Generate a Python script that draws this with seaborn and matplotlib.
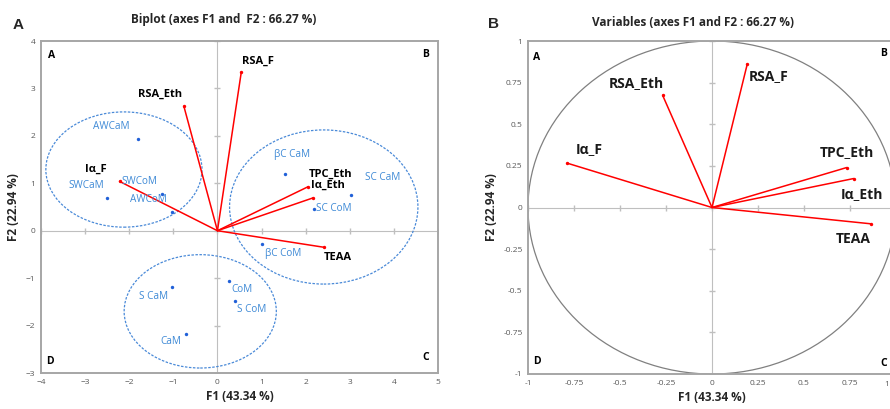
import numpy as np
import pandas as pd
import matplotlib
matplotlib.use('Agg')
import matplotlib.pyplot as plt
from matplotlib.patches import Ellipse, Circle
import seaborn as sn

# --- data ---
var_names = ['RSA_F', 'RSA_Eth', 'Iα_F', 'TPC_Eth', 'Iα_Eth', 'TEAA']
bi_f1 = [0.54, -0.76, -2.22, 2.06, 2.16, 2.42]
bi_f2 = [3.34, 2.62, 1.04, 0.93, 0.69, -0.35]

obs_names = ['AWCaM', 'SWCaM', 'SWCoM', 'AWCoM', 'βC CaM', 'SC CaM',
             'SC CoM', 'βC CoM', 'CoM', 'S CoM', 'S CaM', 'CaM']
obs_f1 = [-1.80, -2.51, -1.26, -1.03, 1.54, 3.02, 2.20, 1.01, 0.27, 0.39, -1.03, -0.71]
obs_f2 = [1.94, 0.70, 0.78, 0.40, 1.19, 0.745, 0.46, -0.28, -1.06, -1.48, -1.19, -2.17]

# group ellipses: centre f1, centre f2, width, height
grp_f1 = [-2.12, 2.41, -0.39]
grp_f2 = [1.29, 0.50, -1.70]
grp_w = [3.54, 4.27, 3.45]
grp_h = [2.43, 3.25, 2.39]

cor_f1 = [0.192, -0.268, -0.786, 0.732, 0.770, 0.864]
cor_f2 = [0.863, 0.673, 0.266, 0.240, 0.174, -0.098]

# label offsets (points), style only
bi_off = [(12, 8), (-17, 9), (-17, 9), (16, 9), (11, 9), (10, -7)]
obs_off = [(-19, 9), (-15, 9), (-16, 9), (-17, 9), (5, 14), (23, 13),
           (14, 0), (15, -7), (9, -6), (12, -6), (-13, -7), (-11, -6)]
cor_off = [(15, -9), (-19, 9), (16, 10), (0, 11), (6, -11), (-13, -11)]

bi = pd.DataFrame({'f1': bi_f1, 'f2': bi_f2, 'name': var_names})
obs = pd.DataFrame({'f1': obs_f1, 'f2': obs_f2, 'name': obs_names})
cor = pd.DataFrame({'f1': cor_f1, 'f2': cor_f2, 'name': var_names})

sn.set_theme(style='white')
plt.rcParams['font.family'] = ['Open Sans', 'DejaVu Sans']

GRAY = '#a6a6a6'
TICKC = '#595959'
RED = '#ff0000'
BLUE_T = '#3f8ad6'
BLUE_P = '#2060d8'

fig = plt.figure(figsize=(8.9, 4.09), dpi=100)
axA = fig.add_axes([41 / 890, 36 / 409, 397 / 890, 332 / 409])
axB = fig.add_axes([528 / 890, 35 / 409, 368 / 890, 333 / 409])


def frame(ax, xt, yt, tlen):
    for s in ax.spines.values():
        s.set_color(GRAY)
        s.set_linewidth(1.4)
    ax.tick_params(length=0, labelsize=6, colors=TICKC, pad=4)
    ax.set_xticks(xt)
    ax.set_yticks(yt)
    ax.axhline(0, color='#bfbfbf', lw=0.8, zorder=1)
    ax.axvline(0, color='#bfbfbf', lw=0.8, zorder=1)
    # small tick marks on the zero lines
    ax.plot(xt, np.zeros(len(xt)), ls='none', marker='|', ms=tlen, color='#bfbfbf', zorder=1)
    ax.plot(np.zeros(len(yt)), yt, ls='none', marker='_', ms=tlen, color='#bfbfbf', zorder=1)
    ax.set_xlabel('F1 (43.34 %)', fontsize=8.5, fontweight='bold', labelpad=3)
    ax.set_ylabel('F2 (22.94 %)', fontsize=8.5, fontweight='bold', labelpad=4)


def quad(ax, pos):
    for letter, (fx, fy) in zip('ABDC', pos):
        ax.text(fx, fy, letter, transform=ax.transAxes, ha='center', va='center',
                fontsize=7.5, fontweight='bold', color='black')


# ---- panel A: biplot ----
ax = axA
ax.set_xlim(-4, 5)
ax.set_ylim(-3, 4)
frame(ax, np.arange(-4, 6), np.arange(-3, 5), 4)
for cx, cy, w, h in zip(grp_f1, grp_f2, grp_w, grp_h):
    ax.add_patch(Ellipse((cx, cy), w, h, fill=False, ls=(0, (2, 1.2)),
                         lw=0.9, ec='#4a8ad8', zorder=2))
for _, r in bi.iterrows():
    ax.plot([0, r.f1], [0, r.f2], color=RED, lw=1.1, zorder=3)
sn.scatterplot(data=bi, x='f1', y='f2', ax=ax, color=RED, s=6, linewidth=0, zorder=4, legend=False)
sn.scatterplot(data=obs, x='f1', y='f2', ax=ax, color=BLUE_P, s=6, linewidth=0, zorder=4, legend=False)
for (_, r), off in zip(bi.iterrows(), bi_off):
    ax.annotate(r['name'], (r.f1, r.f2), xytext=off, textcoords='offset points',
                ha='center', va='center', fontsize=8, fontweight='bold', color='black', zorder=5)
for (_, r), off in zip(obs.iterrows(), obs_off):
    ax.annotate(r['name'], (r.f1, r.f2), xytext=off, textcoords='offset points',
                ha='center', va='center', fontsize=7.2, color=BLUE_T, zorder=5)
quad(ax, [(0.027, 0.957), (0.969, 0.960), (0.023, 0.034), (0.969, 0.048)])

# ---- panel B: correlation circle ----
ax = axB
ax.set_xlim(-1, 1)
ax.set_ylim(-1, 1)
ticks = [-1, -0.75, -0.5, -0.25, 0, 0.25, 0.5, 0.75, 1]
tick_txt = ['-1', '-0.75', '-0.5', '-0.25', '0', '0.25', '0.5', '0.75', '1']
frame(ax, ticks, ticks, 4)
# the "1" at the right end falls past the figure edge; draw it just inside
ax.set_xticklabels(tick_txt[:-1] + [''])
ax.set_yticklabels(tick_txt)
fig.text(889 / 890, 1 - 384 / 409, tick_txt[-1], ha='right', va='center',
         fontsize=6, color=TICKC)
ax.add_patch(Circle((0, 0), 1, fill=False, ec='#808080', lw=0.9, zorder=2))
for _, r in cor.iterrows():
    ax.plot([0, r.f1], [0, r.f2], color=RED, lw=1.1, zorder=3)
sn.scatterplot(data=cor, x='f1', y='f2', ax=ax, color=RED, s=6, linewidth=0, zorder=4, legend=False)
for (_, r), off in zip(cor.iterrows(), cor_off):
    ax.annotate(r['name'], (r.f1, r.f2), xytext=off, textcoords='offset points',
                ha='center', va='center', fontsize=10, fontweight='bold', color='#1a1a1a', zorder=5)
quad(ax, [(0.024, 0.949), (0.967, 0.961), (0.024, 0.037), (0.967, 0.033)])

# titles and panel letters
fig.text(224 / 890, 1 - 19 / 409, 'Biplot (axes F1 and  F2 : 66.27 %)', ha='center', va='center',
         fontsize=8.5, fontweight='bold')
fig.text(693 / 890, 1 - 22 / 409, 'Variables (axes F1 and F2 : 66.27 %)', ha='center', va='center',
         fontsize=8.5, fontweight='bold')
fig.text(18 / 890, 1 - 25 / 409, 'A', ha='center', va='center', fontsize=11,
         fontweight='bold', family='Liberation Sans')
fig.text(493 / 890, 1 - 24 / 409, 'B', ha='center', va='center', fontsize=11,
         fontweight='bold', family='Liberation Sans')

fig.savefig('out.png', dpi=100)
